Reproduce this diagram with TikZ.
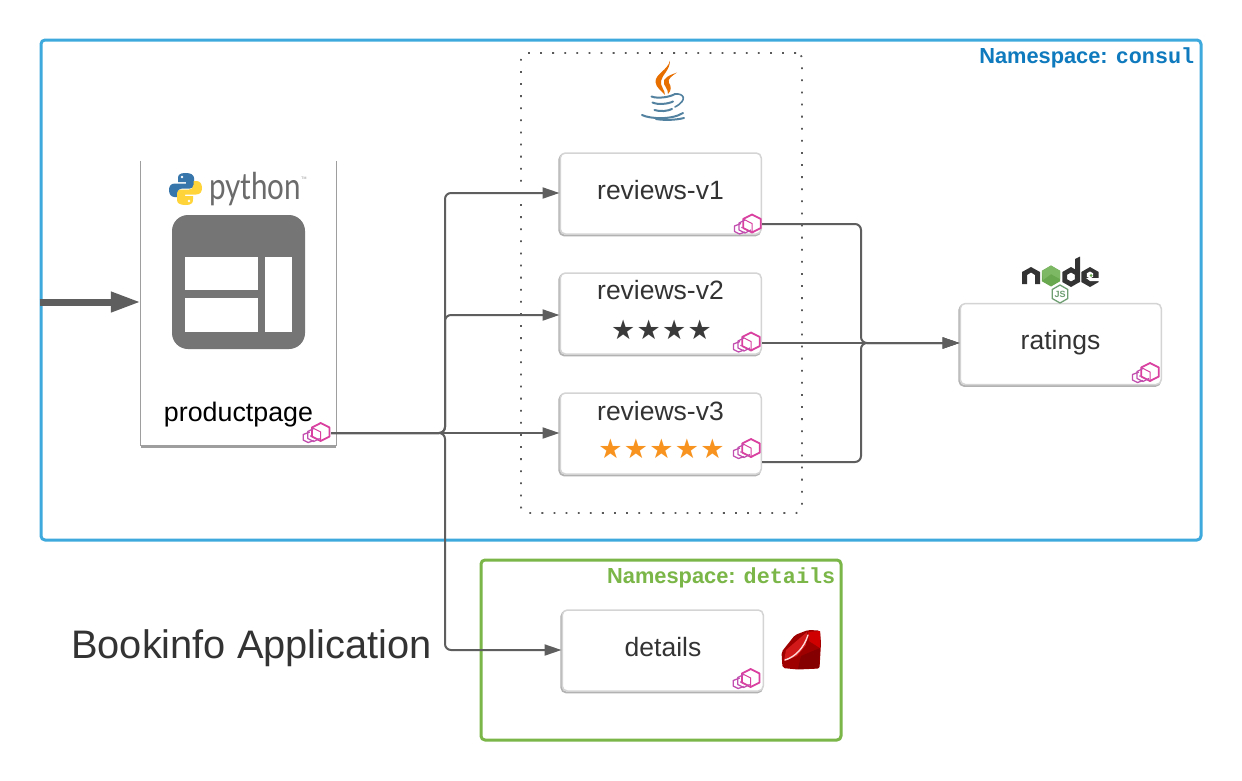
\documentclass[tikz,border=0pt]{standalone}
\usepackage{fontspec}
\setmainfont{Liberation Sans}
\setmonofont{Liberation Mono}
\newfontfamily\starfont[LetterSpace=5]{DejaVu Sans}
\newfontfamily\pyfont{Lato}
\usetikzlibrary{arrows.meta}
\definecolor{nsblue}{HTML}{3DA9DD}
\definecolor{nsbluetext}{HTML}{0F7ABD}
\definecolor{nsgreen}{HTML}{7AB648}
\definecolor{conn}{HTML}{5E5E5E}
\definecolor{envoypink}{HTML}{D9409F}
\definecolor{envoypurple}{HTML}{C24FB0}
\definecolor{inktext}{HTML}{333333}
\definecolor{appgrey}{HTML}{757575}
\definecolor{pyblue}{HTML}{3776AB}
\definecolor{pyyellow}{HTML}{FFD43B}
\definecolor{javaorange}{HTML}{E76F00}
\definecolor{javablue}{HTML}{5382A1}
\definecolor{starorange}{HTML}{F7931E}
\definecolor{stardark}{HTML}{3A3A3A}
\definecolor{nodedark}{HTML}{333333}
\definecolor{nodegreen}{HTML}{6AA84F}
\definecolor{nodegreenlight}{HTML}{7DB964}
\definecolor{jsgreen}{HTML}{6E9E72}
\newcommand{\fsz}[1]{\fontsize{#1}{#1}\selectfont}
\newcommand{\hexpath}[3]{(#1,#2-#3) -- (#1+0.87*#3,#2-0.5*#3) -- (#1+0.87*#3,#2+0.5*#3) -- (#1,#2+#3) -- (#1-0.87*#3,#2+0.5*#3) -- (#1-0.87*#3,#2-0.5*#3) -- cycle}
\tikzset{
  card/.style={draw=black!17,line width=1.5pt,fill=white,rounded corners=5pt,minimum width=201pt,minimum height=81pt,inner sep=0pt,
    preaction={draw=black!30,line width=1.8pt,transform canvas={xshift=-1pt,yshift=-1.5pt}}},
  nsbox/.style={rounded corners=4pt,line width=3pt,fill=none,inner sep=0pt},
  label/.style={text=inktext,font=\fsz{26.5},inner sep=0pt,anchor=center},
  nstext/.style={font=\fsz{21.8}\bfseries,inner sep=0pt,anchor=east},
  flow/.style={draw=conn,line width=2pt,rounded corners=6pt},
  flowarrow/.style={flow,-{Triangle[length=17pt,width=11pt]}},
  envoy/.pic={
    \draw[envoypink,line width=1.8pt,line join=round] (0,-9) -- (8.8,-4.5) -- (8.8,4.5) -- (0,9) -- (-8.8,4.5) -- (-8.8,-4.5) -- cycle;
    \draw[envoypink,line width=1pt] (-7.8,-4) -- (0,0) -- (0,8.5);
    \draw[envoypurple,line width=1.2pt] (-7,-3.5) -- (-13,-0.5) -- (-13,6.5) -- (-7,9.5) -- (-1,6.5);
    \draw[envoypurple,line width=1.3pt] (-11,0) -- (-17.5,2.5) -- (-17.5,8) -- (-12.5,10.5) -- (-7,8.5);
    \fill[envoypurple] (-10,4) circle (0.8);
  },
}
\begin{document}
\begin{tikzpicture}[x=1pt,y=-1pt,line join=round]
\useasboundingbox (0,0) rectangle (1242,780);
\fill[white] (0,0) rectangle (1242,780);

% namespaces
\node[nsbox,draw=nsblue,minimum width=1160pt,minimum height=500pt] (consul) at (621,290) {};
\node[nstext,text=nsbluetext] (consullabel) at (1194.5,58) {Namespace: \texttt{consul}};
\node[nsbox,draw=nsgreen,minimum width=360pt,minimum height=180pt] (detailsns) at (661,650) {};
\node[nstext,text=nsgreen] (detailslabel) at (835.5,578) {Namespace: \texttt{details}};

% java group
\node[draw=black!65,line width=1.8pt,dash pattern=on 1.8pt off 10.3pt,rounded corners=6pt,minimum width=281pt,minimum height=460pt,inner sep=0pt] (javagroup) at (661.5,283) {};

% java logo
\fill[javaorange] (670,60.5) .. controls (668,70) and (655,74) .. (655.5,82) .. controls (656,88) and (662,91) .. (665,95) .. controls (665,90) and (660,86) .. (661,81) .. controls (662,75) and (670,70) .. cycle;
\fill[javaorange] (677,72.5) .. controls (670,75) and (662,78) .. (664,84) .. controls (665,87) and (668,89) .. (668,94) .. controls (672,90) and (671,86) .. (669,83) .. controls (667,79) and (672,76) .. cycle;
\begin{scope}[draw=javablue,line width=2pt,line cap=round]
\draw (651.5,96.5) .. controls (658,99) and (670,97) .. (675,94);
\draw (652.5,102.5) .. controls (658,105) and (668,104) .. (673,101.5);
\draw (654.5,110) .. controls (660,112) and (668,111) .. (672,109);
\draw (642,115) .. controls (650,119) and (672,120) .. (683,113);
\draw (656,119) .. controls (665,120.5) and (676,120) .. (684,118);
\draw[line width=1.6pt] (675,94) .. controls (684,93) and (688,100) .. (675,107);
\end{scope}

% productpage
\node[minimum width=195pt,minimum height=285pt,inner sep=0pt] (pp) at (238.5,303.5) {};
\draw[black!38,line width=1.2pt] (pp.north west) -- (pp.south west) (pp.south east) -- (pp.north east);
\draw[black!38,line width=3pt] (pp.south west) -- (pp.south east);
\node[fill=appgrey,rounded corners=16pt,minimum width=133pt,minimum height=134pt,inner sep=0pt] (ppicon) at (238.5,282) {};
\fill[white] (185,256.7) rectangle (258.3,290);
\fill[white] (185,298) rectangle (258.3,331.7);
\fill[white] (265,256.7) rectangle (291.7,331.7);
\node[text=black,font=\fsz{26.8},inner sep=0pt] (pplabel) at (238.5,415) {productpage};

% python logo
\begin{scope}
\fill[pyblue] (186,173) .. controls (178,173) and (178,176) .. (178,179) -- (178,182) -- (186,182) -- (186,183.5) -- (175,183.5) .. controls (171,183.5) and (169,186) .. (169,190) .. controls (169,194) and (171,197) .. (174.5,197) -- (177.5,197) -- (177.5,193) .. controls (177.5,190) and (180,188.5) .. (182,188.5) -- (190,188.5) .. controls (192.5,188.5) and (194,187) .. (194,184.5) -- (194,178) .. controls (194,175) and (191,173) .. (186,173) -- cycle;
\fill[white] (182,177) circle (1.4);
\end{scope}
\begin{scope}[rotate around={180:(185.5,189)}]
\fill[pyyellow] (186,173) .. controls (178,173) and (178,176) .. (178,179) -- (178,182) -- (186,182) -- (186,183.5) -- (175,183.5) .. controls (171,183.5) and (169,186) .. (169,190) .. controls (169,194) and (171,197) .. (174.5,197) -- (177.5,197) -- (177.5,193) .. controls (177.5,190) and (180,188.5) .. (182,188.5) -- (190,188.5) .. controls (192.5,188.5) and (194,187) .. (194,184.5) -- (194,178) .. controls (194,175) and (191,173) .. (186,173) -- cycle;
\fill[white] (182,177) circle (1.4);
\end{scope}
\node[text=black!58,font=\pyfont\fsz{37},inner sep=0pt,anchor=west] (pytext) at (209,189) {\scalebox{0.8}[1]{python}};
\node[text=black!45,font=\fsz{3.5},inner sep=0pt] (pytm) at (304,178) {TM};

% cards
\node[card] (r1) at (660.75,193.5) {};
\node[label] (r1label) at (660.5,190) {reviews-v1};
\node[card] (r2) at (660.75,313.5) {};
\node[label] (r2label) at (660.5,290) {reviews-v2};
\node[text=stardark,font=\starfont\fsz{27},inner sep=0pt] (r2stars) at (661.5,330) {★★★★};
\node[card] (r3) at (660.75,433.5) {};
\node[label] (r3label) at (660.5,411) {reviews-v3};
\node[text=starorange,font=\starfont\fsz{27},inner sep=0pt] (r3stars) at (661.5,449) {★★★★★};
\node[card] (ratings) at (1060.75,344) {};
\node[label] (ratingslabel) at (1060.5,343) {ratings};
\node[card] (details) at (662.75,650.5) {};
\node[label] (detailslabel2) at (663,647) {details};
\node[text=inktext,font=\fsz{39.8},inner sep=0pt,anchor=west] (title) at (71,648.5) {Bookinfo Application};

% connector anchors
\coordinate (ppout) at (331,433);
\coordinate (r1in) at (r1.west |- 0,193);
\coordinate (r2in) at (r2.west |- 0,315);
\coordinate (r3in) at (r3.west |- 0,433);
\coordinate (detin) at (details.west |- 0,650);
\coordinate (r1out) at (r1.east |- 0,224);
\coordinate (r2out) at (r2.east |- 0,343);
\coordinate (r3out) at (r3.east |- 0,462);
\coordinate (ratin) at (ratings.west |- 0,343);
\coordinate (ingress) at (consul.west |- 0,302);

% connectors
\draw[flowarrow] (ppout) -| (445,193) -- (r1in);
\draw[flowarrow] (ppout) -| (445,315) -- (r2in);
\draw[flowarrow] (ppout) -- (r3in);
\draw[flowarrow] (ppout) -| (445,650) -- (detin);
\draw[flowarrow] (r1out) -| (861,343) -- (ratin);
\draw[flowarrow] (r2out) -- (ratin);
\draw[flowarrow] (r3out) -| (861,343) -- (ratin);
\draw[draw=conn,line width=7pt,-{Triangle[length=30pt,width=19pt]}] (ingress) -- (pp.west |- 0,302);

% envoy icons
\pic at (320.7,432) {envoy};
\pic at (752,223.5) {envoy};
\pic at (751,341.5) {envoy};
\pic at (751,448) {envoy};
\pic at (1150,372) {envoy};
\pic at (750.7,678) {envoy};

% node logo
\fill[nodedark] (1022,272) -- (1031,267) -- (1040,272) -- (1040,284) -- (1035,284) -- (1035,275) -- (1031,272.5) -- (1027,275) -- (1027,284) -- (1022,284) -- cycle;
\fill[nodegreen] \hexpath{1051}{276}{10.5};
\fill[nodegreenlight] (1042,271) -- (1051,265.5) -- (1060,271) -- (1060,279) -- (1051,274) -- (1043,280) -- cycle;
\fill[nodedark,even odd rule] \hexpath{1071}{277}{10} \hexpath{1071}{277}{4.5};
\fill[nodedark] (1075,259) -- (1080,256.5) -- (1080,282) -- (1075,282) -- cycle;
\fill[nodedark] \hexpath{1090}{277}{10};
\fill[white] (1086,278) -- (1099,278) -- (1099,281) -- (1090,281) -- cycle;
\fill[white] \hexpath{1090}{275}{3.5};
\fill[nodegreen] (1091,275.5) circle (1.5);
\draw[jsgreen,line width=1.3pt] \hexpath{1060}{294}{9};
\node[text=jsgreen,font=\fsz{9}\bfseries,inner sep=0pt] (jslabel) at (1060,294) {JS};

% ruby logo
\fill[red!62!black,rounded corners=2pt] (781.5,652) -- (795,635) -- (808,630) -- (820,630.5) -- (821,643) -- (819.5,668.5) -- (798,669.5) -- (782.5,668) -- cycle;
\fill[red!80!black!90!white] (786,650) -- (807,632) -- (806,645) -- (797,656) -- (784,661) -- cycle;
\fill[red!52!black] (801,656) -- (820,648) -- (819,668) -- (798,669) -- cycle;
\fill[red!82!black] (808,632) -- (820,631) -- (820,648) -- (809,641) -- cycle;
\draw[red!15!white,line width=1.4pt,line cap=round] (785,660) .. controls (795,657) and (804,648) .. (808,635);
\end{tikzpicture}
\end{document}
